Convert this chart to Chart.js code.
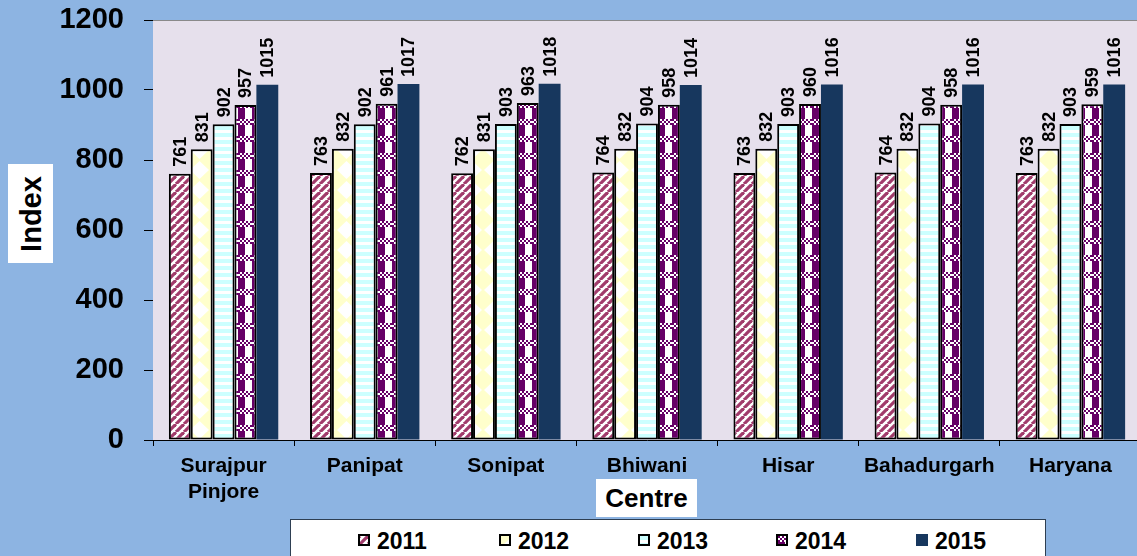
<!DOCTYPE html>
<html>
<head>
<meta charset="utf-8">
<script src="https://cdn.jsdelivr.net/npm/chart.js@4"></script>
<style>
html, body { margin: 0; padding: 0; }
body { width: 1137px; height: 556px; overflow: hidden; background: #8DB4E2; position: relative; font-family: "Liberation Sans", Arial, sans-serif; }
#wrap { position: absolute; left: 0; top: 0; width: 1141px; height: 556px; }
.box { position: absolute; background: #fff; font-weight: bold; color: #000; }
#ytitle { left: 8px; top: 164px; width: 45px; height: 99px; font-size: 29px; }
#ytitle span { position: absolute; left: 50%; top: 50%; transform: translate(-50%, -50%) rotate(-90deg); white-space: nowrap; }
#xtitle { left: 596px; top: 479px; width: 101px; height: 38px; font-size: 26px; line-height: 38px; text-align: center; }
#legend { left: 290px; top: 519px; width: 754px; height: 50px; border: 1px solid #2E3F52; }
.item { position: absolute; top: 8px; font-size: 23px; line-height: 26px; height: 26px; }
.item canvas { position: absolute; left: 0; top: 6px; width: 8px; height: 8px; border: 2px solid #000; }
.item span { position: absolute; left: 19px; top: 0; }
</style>
</head>
<body>
<div id="wrap"><canvas id="chart"></canvas></div>
<div id="ytitle" class="box"><span>Index</span></div>
<div id="xtitle" class="box">Centre</div>
<div id="legend" class="box"></div>
<script>
const categories = [['Surajpur', 'Pinjore'], 'Panipat', 'Sonipat', 'Bhiwani', 'Hisar', 'Bahadurgarh', 'Haryana'];
const years = ['2011', '2012', '2013', '2014', '2015'];
const y2011 = [761, 763, 762, 764, 763, 764, 763];
const y2012 = [831, 832, 831, 832, 832, 832, 832];
const y2013 = [902, 902, 903, 904, 903, 904, 903];
const y2014 = [957, 961, 963, 958, 960, 958, 959];
const y2015 = [1015, 1017, 1018, 1014, 1016, 1016, 1016];
const yTicks = [0, 200, 400, 600, 800, 1000, 1200];

const FONT = '"Liberation Sans", Arial, sans-serif';

// little tiles for the bar fills
function makePattern(year) {
  const c = document.createElement('canvas');
  const g = c.getContext('2d');
  if (year === '2011') {
    c.width = c.height = 8;
    g.fillStyle = '#fff'; g.fillRect(0, 0, 8, 8);
    g.strokeStyle = '#A13B6B'; g.lineWidth = 3.2;
    [-8, 0, 8].forEach(o => { g.beginPath(); g.moveTo(o, 8); g.lineTo(o + 8, 0); g.stroke(); });
  } else if (year === '2012') {
    c.width = 21; c.height = 20;
    g.fillStyle = '#FFFFCC'; g.fillRect(0, 0, 21, 20);
    g.fillStyle = '#fff';
    g.beginPath(); g.moveTo(10.5, 1); g.lineTo(20, 10); g.lineTo(10.5, 19); g.lineTo(1, 10); g.closePath(); g.fill();
  } else if (year === '2013') {
    c.width = 4; c.height = 7;
    g.fillStyle = '#fff'; g.fillRect(0, 0, 4, 7);
    g.fillStyle = '#CCFFFF'; g.fillRect(0, 0, 4, 4);
  } else if (year === '2014') {
    // plaid: purple column, white column, checker band
    c.width = 14; c.height = 17;
    g.fillStyle = '#fff'; g.fillRect(0, 0, 14, 17);
    g.fillStyle = '#660066'; g.fillRect(0, 6, 7, 11);
    for (let yy = 0; yy < 6; yy += 2) for (let xx = 0; xx < 14; xx += 2) {
      if (((xx + yy) / 2) % 2 === 0) g.fillRect(xx, yy, 2, 2);
    }
  } else {
    return '#17375E';
  }
  return g.createPattern(c, 'repeat');
}

const fills = years.map(makePattern);
const series = [y2011, y2012, y2013, y2014, y2015];

const plotArea = {
  id: 'plotArea',
  beforeDatasetsDraw(chart) {
    const a = chart.chartArea, c = chart.ctx;
    c.save();
    c.fillStyle = '#E6E0EC';
    c.fillRect(a.left, a.top, a.right - a.left, a.bottom - a.top);
    c.strokeStyle = '#8A8A8A'; c.lineWidth = 1;
    c.beginPath(); c.moveTo(a.left, a.top + 0.5); c.lineTo(a.right, a.top + 0.5); c.stroke();
    c.restore();
  }
};

const valueLabels = {
  id: 'valueLabels',
  afterDatasetsDraw(chart) {
    const c = chart.ctx;
    c.save();
    c.font = 'bold 18px ' + FONT;
    c.fillStyle = '#000';
    c.textAlign = 'left';
    c.textBaseline = 'middle';
    chart.data.datasets.forEach((ds, i) => {
      chart.getDatasetMeta(i).data.forEach((bar, j) => {
        c.save();
        c.translate(bar.x, bar.y - 7);
        c.rotate(-Math.PI / 2);
        c.fillText(String(ds.data[j]), 0, 1);
        c.restore();
      });
    });
    c.restore();
  }
};

new Chart(document.getElementById('chart'), {
  type: 'bar',
  data: {
    labels: categories,
    datasets: years.map((y, i) => ({
      label: y,
      data: series[i],
      backgroundColor: fills[i],
      borderColor: '#000',
      borderWidth: i === 4 ? 0 : 2,
      borderSkipped: false,
      barPercentage: 1,
      categoryPercentage: 0.775
    }))
  },
  options: {
    responsive: true,
    maintainAspectRatio: false,
    animation: false,
    layout: { padding: { top: 20, left: 0, right: 0, bottom: 0 } },
    plugins: { legend: { display: false }, tooltip: { enabled: false } },
    scales: {
      x: {
        grid: { offset: true, drawOnChartArea: false, tickLength: 6, tickColor: '#000' },
        border: { color: '#000', width: 1 },
        ticks: { color: '#000', padding: 8, maxRotation: 0, autoSkip: false, font: { family: FONT, size: 21, weight: 'bold', lineHeight: 1.2 } },
        afterFit(s) { s.height = 116; }
      },
      y: {
        min: 0, max: 1200,
        afterBuildTicks(s) { s.ticks = yTicks.map(v => ({ value: v })); },
        grid: { drawOnChartArea: false, tickLength: 9, tickColor: '#000' },
        border: { color: '#000', width: 1 },
        ticks: { color: '#000', padding: 20, callback: v => String(v), font: { family: FONT, size: 29, weight: 'bold' } },
        afterFit(s) { s.width = 153; s.paddingTop = 0; s.paddingBottom = 0; }
      }
    }
  },
  plugins: [plotArea, valueLabels]
});

// legend, built from the same years and fills
const legend = document.getElementById('legend');
const legendX = [67, 208, 347, 485, 625];
years.forEach((y, i) => {
  const item = document.createElement('div');
  item.className = 'item';
  item.style.left = legendX[i] + 'px';
  const sw = document.createElement('canvas');
  sw.width = 8; sw.height = 8;
  const g = sw.getContext('2d');
  g.fillStyle = fills[i]; g.fillRect(0, 0, 8, 8);
  if (i === 4) { sw.style.borderColor = '#17375E'; }
  const t = document.createElement('span');
  t.textContent = y;
  item.appendChild(sw); item.appendChild(t);
  legend.appendChild(item);
});
</script>
</body>
</html>
